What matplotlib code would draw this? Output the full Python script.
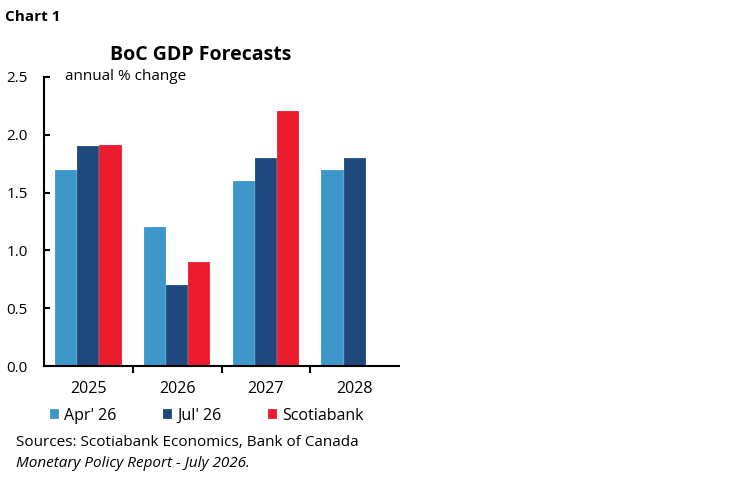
import matplotlib.pyplot as plt
import numpy as np

plt.rcParams['font.family'] = ['Open Sans', 'DejaVu Sans']

years = ["2025", "2026", "2027", "2028"]
series = ["Apr' 26", "Jul' 26", "Scotiabank"]
apr = [1.7, 1.2, 1.6, 1.7]
jul = [1.9, 0.7, 1.8, 1.8]
scotia = [1.91, 0.9, 2.21, np.nan]
colors = ["#3D97CB", "#1F497D", "#EC1C2E"]

fig = plt.figure(figsize=(7.48, 4.83), dpi=100)
ax = fig.add_axes([0.0588, 0.242, 0.4747, 0.5986])

x = np.arange(len(years))
w = 0.25
for i, (vals, lab, c) in enumerate(zip([apr, jul, scotia], series, colors)):
    ax.bar(x + (i - 1) * w, vals, w, color=c, label=lab,
           edgecolor=(1, 1, 1, 0.4), linewidth=0.3)

ax.set_xlim(-0.5, 3.5)
ax.set_ylim(0, 2.5)
yt = np.arange(0, 2.51, 0.5)
ax.set_yticks(yt)
ax.set_yticklabels([f"{v:.1f}" for v in yt], ha="left")
ax.tick_params(axis="y", direction="in", length=4, width=1.5, pad=27,
               labelsize=11)

ax.set_xticks([0.5, 1.5, 2.5])
ax.set_xticklabels([])
ax.set_xticks(x, minor=True)
ax.set_xticklabels(years, minor=True)
ax.tick_params(axis="x", which="major", direction="out", length=5, width=1.5)
ax.tick_params(axis="x", which="minor", length=0, pad=11, labelsize=11.5)

for s in ["top", "right"]:
    ax.spines[s].set_visible(False)
for s in ["left", "bottom"]:
    ax.spines[s].set_linewidth(1.5)

fig.text(0.007, 0.965, "Chart 1", fontsize=11, fontweight="bold",
         va="center", ha="left")
fig.text(0.268, 0.886, "BoC GDP Forecasts", fontsize=14, fontweight="bold",
         va="center", ha="center")
fig.text(0.087, 0.841, "annual % change", fontsize=11, va="center", ha="left")

fig.legend(loc="center left", bbox_to_anchor=(0.047, 0.139), ncol=3,
           frameon=False, handlelength=0.6, handleheight=0.6,
           handletextpad=0.3, columnspacing=2.9, fontsize=11.5)

fig.text(0.022, 0.083, "Sources: Scotiabank Economics, Bank of Canada",
         fontsize=11, va="center", ha="left")
fig.text(0.022, 0.041, "Monetary Policy Report - July 2026.",
         fontsize=11, va="center", ha="left", style="italic")

fig.savefig("out.png", dpi=100)
